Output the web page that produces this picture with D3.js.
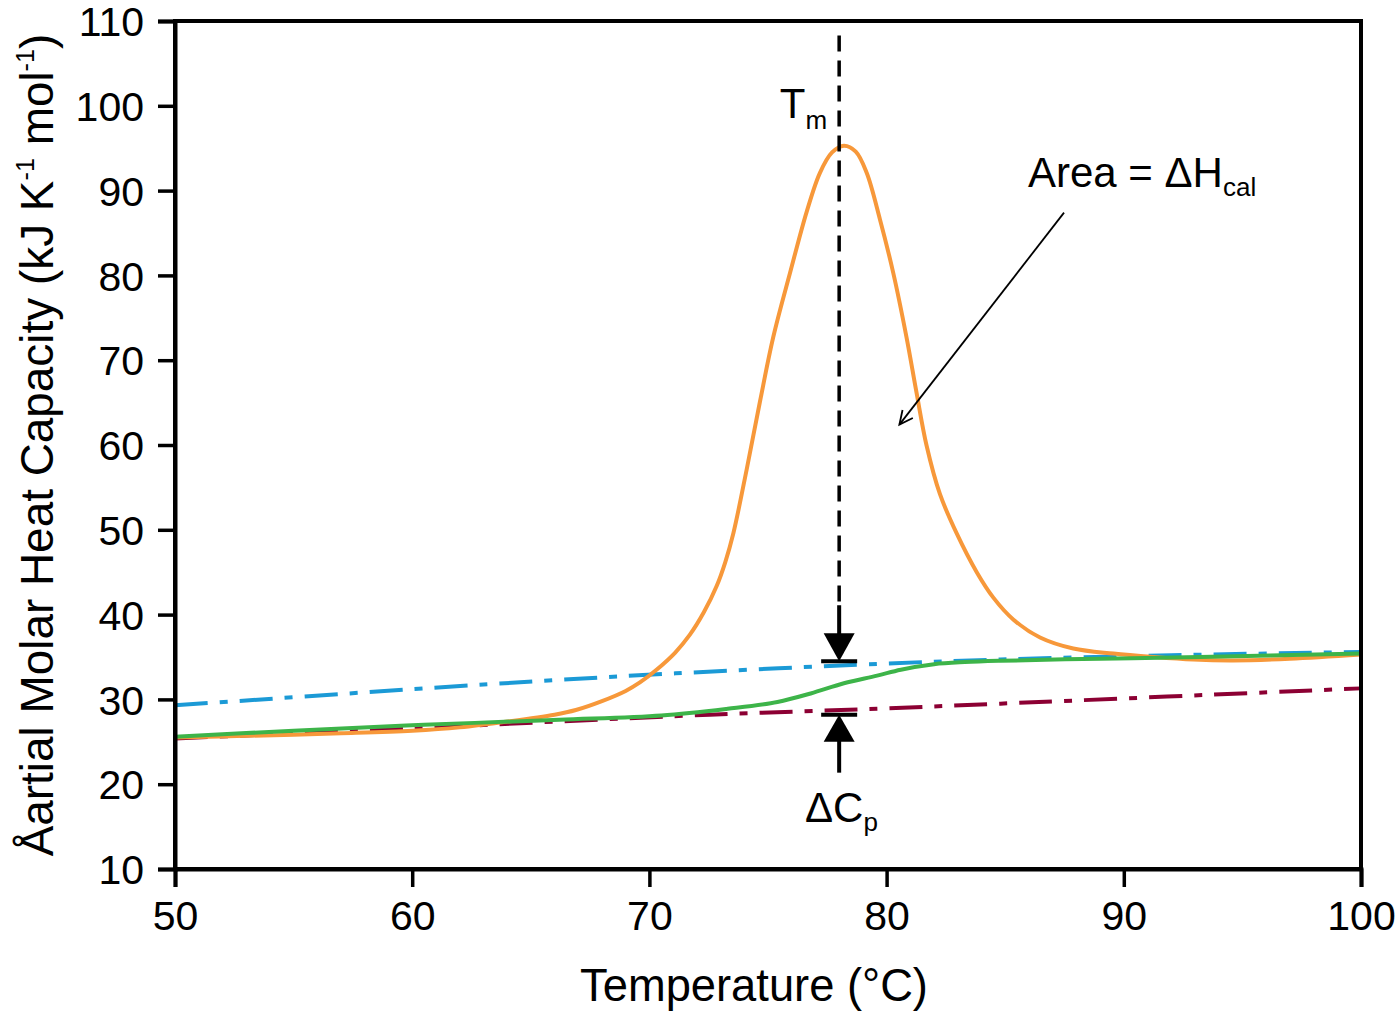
<!DOCTYPE html>
<html>
<head>
<meta charset="utf-8">
<script src="https://cdn.jsdelivr.net/npm/d3@7"></script>
<style>
  html, body { margin: 0; padding: 0; background: #fff; }
  svg { display: block; font-family: "Liberation Sans", Arial, sans-serif; }
</style>
</head>
<body>
<svg id="chart" width="1398" height="1015"></svg>
<script>
(function(){
    // sample (orange) trace
    var sampleT = [50, 53, 57, 60, 62, 64.05, 66, 66.9, 68, 69, 69.6, 70.3, 71.08, 71.7, 72.3, 72.84, 73.2, 73.54, 74.1, 74.66, 75.22, 75.93, 76.63, 77.19, 77.7, 78.2, 78.7, 79.16, 79.72, 80.28, 80.84, 81.26, 81.68, 82.25, 82.95, 83.8, 84.5, 85.35, 86.47, 87.87, 89.56, 91.25, 92.93, 94.6, 97, 100];
    var sampleCp = [25.5, 25.7, 26.0, 26.3, 26.7, 27.4, 28.2, 28.75, 29.8, 31.0, 32.0, 33.5, 35.5, 37.6, 40.3, 43.4, 46.2, 49.6, 57.1, 65.1, 72.7, 80.3, 87.5, 92.1, 94.5, 95.3, 94.6, 92.1, 86.6, 80.3, 72.7, 66.2, 60.0, 54.2, 49.6, 45.0, 42.0, 39.4, 37.3, 36.0, 35.4, 35.0, 34.7, 34.6, 34.8, 35.3];

    // progress baseline (green)
    var baseT = [50, 55, 60.5, 66.2, 70.5, 73.3, 75.4, 76.8, 78.2, 79.6, 80.6, 82, 83.3, 84.8, 89, 93.2, 100];
    var baseCp = [25.6, 26.3, 27.0, 27.6, 28.1, 28.9, 29.7, 30.7, 31.9, 32.8, 33.5, 34.15, 34.4, 34.55, 34.8, 35.0, 35.4];

    // unfolded state extrapolation (blue)
    var unfoldT = [50, 60, 66.2, 71.1, 79.7, 84.8, 92, 100];
    var unfoldCp = [29.3, 31.2, 32.3, 33.07, 34.2, 34.7, 35.2, 35.6];

    // folded state extrapolation (red)
    var foldT = [50, 60, 72.55, 79.6, 84.8, 100];
    var foldCp = [25.4, 26.6, 28.2, 28.9, 29.5, 31.3];

    var xTicks = [50, 60, 70, 80, 90, 100];
    var yTicks = [10, 20, 30, 40, 50, 60, 70, 80, 90, 100, 110];

    // annotation anchors (data units)
    var tm = 78, tmTop = 108.3, topBar = 34.5, bottomBar = 28.2;
    var areaFrom = [87.48, 87.4], areaTo = [80.54, 62.4];

    var margin = {top: 21, right: 37, bottom: 146, left: 175},
        width = 1398 - margin.left - margin.right,
        height = 1015 - margin.top - margin.bottom;

    var svg = d3.select("#chart");
    var g = svg.append("g").attr("transform", "translate(" + margin.left + "," + margin.top + ")");

    var x = d3.scaleLinear().domain([50, 100]).range([0, width]);
    var y = d3.scaleLinear().domain([10, 110]).range([height, 0]);

    function zip(a, b){ return a.map(function(v, i){ return [v, b[i]]; }); }

    var line = d3.line()
        .x(function(d){ return x(d[0]); })
        .y(function(d){ return y(d[1]); })
        .curve(d3.curveCatmullRom.alpha(0.5));

    g.append("path").datum(zip(foldT, foldCp))
        .attr("d", line).attr("fill", "none")
        .attr("stroke", "#8c0033").attr("stroke-width", 4)
        .attr("stroke-dasharray", "33,12,8,12");

    g.append("path").datum(zip(unfoldT, unfoldCp))
        .attr("d", line).attr("fill", "none")
        .attr("stroke", "#1b9ad6").attr("stroke-width", 4)
        .attr("stroke-dasharray", "33,12,8,12");

    g.append("path").datum(zip(sampleT, sampleCp))
        .attr("d", line).attr("fill", "none")
        .attr("stroke", "#f7983a").attr("stroke-width", 4);

    g.append("path").datum(zip(baseT, baseCp))
        .attr("d", line).attr("fill", "none")
        .attr("stroke", "#3db449").attr("stroke-width", 4);

    // Tm dashed marker with arrow down to top bar
    var tx = x(tm), yTop = y(topBar), yBot = y(bottomBar);
    g.append("line")
        .attr("x1", tx).attr("x2", tx)
        .attr("y1", y(tmTop)).attr("y2", yTop - 56)
        .attr("stroke", "#000").attr("stroke-width", 3.5)
        .attr("stroke-dasharray", "16,9");
    g.append("line")
        .attr("x1", tx).attr("x2", tx)
        .attr("y1", yTop - 56).attr("y2", yTop - 26)
        .attr("stroke", "#000").attr("stroke-width", 4);
    g.append("path")
        .attr("d", "M" + (tx - 15.5) + "," + (yTop - 28) + "L" + (tx + 15.5) + "," + (yTop - 28) + "L" + tx + "," + yTop + "Z")
        .attr("fill", "#000");
    g.append("line")
        .attr("x1", tx - 18).attr("x2", tx + 18)
        .attr("y1", yTop).attr("y2", yTop)
        .attr("stroke", "#000").attr("stroke-width", 4);

    // delta Cp arrow up to bottom bar
    g.append("line")
        .attr("x1", tx - 18).attr("x2", tx + 18)
        .attr("y1", yBot).attr("y2", yBot)
        .attr("stroke", "#000").attr("stroke-width", 4);
    g.append("path")
        .attr("d", "M" + (tx - 15.5) + "," + (yBot + 27) + "L" + (tx + 15.5) + "," + (yBot + 27) + "L" + tx + "," + yBot + "Z")
        .attr("fill", "#000");
    g.append("line")
        .attr("x1", tx).attr("x2", tx)
        .attr("y1", yBot + 26).attr("y2", yBot + 58)
        .attr("stroke", "#000").attr("stroke-width", 4);

    // area arrow
    var ax1 = x(areaFrom[0]), ay1 = y(areaFrom[1]), ax2 = x(areaTo[0]), ay2 = y(areaTo[1]);
    var ang = Math.atan2(ay1 - ay2, ax1 - ax2), headLen = 15, spread = 0.45;
    g.append("line")
        .attr("x1", ax1).attr("y1", ay1).attr("x2", ax2).attr("y2", ay2)
        .attr("stroke", "#000").attr("stroke-width", 1.8);
    g.append("path")
        .attr("d", "M" + (ax2 + headLen * Math.cos(ang + spread)) + "," + (ay2 + headLen * Math.sin(ang + spread)) +
                   "L" + ax2 + "," + ay2 +
                   "L" + (ax2 + headLen * Math.cos(ang - spread)) + "," + (ay2 + headLen * Math.sin(ang - spread)))
        .attr("fill", "none").attr("stroke", "#000").attr("stroke-width", 1.8);

    // annotation labels
    var tmLabel = g.append("text")
        .attr("x", x(75.5)).attr("y", y(98.6))
        .attr("font-size", 42).attr("fill", "#000");
    tmLabel.append("tspan").text("T");
    tmLabel.append("tspan").attr("font-size", "0.62em").attr("dy", "0.45em").text("m");

    var areaLabel = g.append("text")
        .attr("x", x(85.96)).attr("y", y(90.4))
        .attr("font-size", 42).attr("fill", "#000");
    areaLabel.append("tspan").text("Area = ΔH");
    areaLabel.append("tspan").attr("font-size", "0.62em").attr("dy", "0.35em").text("cal");

    var cpLabel = g.append("text")
        .attr("x", x(76.56)).attr("y", y(15.5))
        .attr("font-size", 42).attr("fill", "#000");
    cpLabel.append("tspan").text("ΔC");
    cpLabel.append("tspan").attr("font-size", "0.62em").attr("dy", "0.35em").text("p");

    // frame
    g.append("rect")
        .attr("x", 0).attr("y", 0).attr("width", width).attr("height", height)
        .attr("fill", "none").attr("stroke", "#000").attr("stroke-width", 4);

    // axes
    var xAxis = g.append("g").attr("transform", "translate(0," + height + ")")
        .call(d3.axisBottom(x).tickValues(xTicks).tickSize(18).tickPadding(14).tickFormat(d3.format("d")));
    var yAxis = g.append("g")
        .call(d3.axisLeft(y).tickValues(yTicks).tickSize(17).tickPadding(14).tickFormat(d3.format("d")));

    [xAxis, yAxis].forEach(function(ax){
        ax.select(".domain").attr("stroke-width", 4);
        ax.selectAll(".tick line").attr("stroke-width", 3.5);
        ax.selectAll(".tick text")
            .attr("font-family", "Liberation Sans, Arial, sans-serif")
            .attr("font-size", 41).attr("fill", "#000");
    });
    yAxis.selectAll(".tick text").attr("dy", "0.36em");

    // axis titles, sized to match measured lengths
    function fit(sel, target){
        var len = sel.node().getComputedTextLength();
        var fs = parseFloat(sel.attr("font-size"));
        sel.attr("font-size", fs * target / len);
    }

    var xTitle = svg.append("text")
        .attr("x", 754).attr("y", 1001)
        .attr("text-anchor", "middle")
        .attr("font-size", 42).attr("fill", "#000")
        .text("Temperature (°C)");
    fit(xTitle, 348);

    var yTitle = svg.append("text")
        .attr("transform", "translate(53," + (margin.top + height / 2) + ") rotate(-90)")
        .attr("text-anchor", "middle")
        .attr("font-size", 42).attr("fill", "#000");
    yTitle.append("tspan").text("Åartial Molar Heat Capacity (kJ K");
    yTitle.append("tspan").attr("font-size", "0.55em").attr("dy", "-0.75em").text("-1");
    yTitle.append("tspan").attr("dy", "0.41em").text(" mol");
    yTitle.append("tspan").attr("font-size", "0.55em").attr("dy", "-0.75em").text("-1");
    yTitle.append("tspan").attr("dy", "0.41em").text(")");
    fit(yTitle, 823);
})();
</script>
</body>
</html>
